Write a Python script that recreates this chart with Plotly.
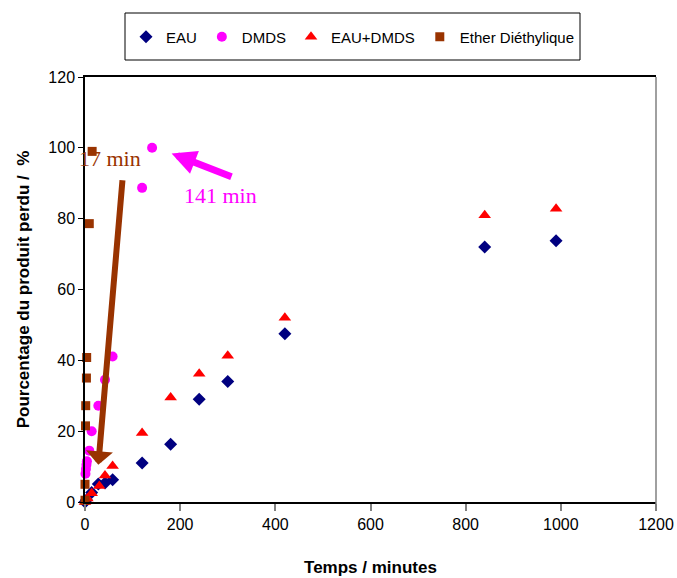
import plotly.graph_objects as go

# ---- data ----
eau_t = [0, 3, 14, 28, 42, 58, 120, 180, 240, 300, 420, 840, 990]
eau_y = [0, 0.6, 2.7, 5.1, 5.4, 6.3, 11, 16.3, 29, 34, 47.5, 72, 73.8]

dmds_t = [1, 2, 3, 4, 9, 14, 28, 42, 58, 120, 141]
dmds_y = [8, 9.3, 10.5, 11.5, 14.5, 20, 27.2, 34.5, 41.1, 88.7, 100]

mix_t = [0, 5, 14, 30, 42, 58, 120, 180, 240, 300, 420, 840, 990]
mix_y = [0, 1, 2.5, 4.5, 7.5, 10.2, 19.5, 29.5, 36.2, 41.3, 52, 81, 82.8]

ether_t = [0, 0, 1, 1.5, 3, 3.5, 9, 15]
ether_y = [0.5, 5, 21.5, 27.2, 35, 40.8, 78.6, 99]

x_ticks = [0, 200, 400, 600, 800, 1000, 1200]
y_ticks = [0, 20, 40, 60, 80, 100, 120]

NAVY, MAG, RED, BROWN = "#000080", "#FF00FF", "#FF0000", "#993300"

fig = go.Figure()
fig.add_trace(go.Scatter(x=eau_t, y=eau_y, mode="markers", name="EAU",
                         marker=dict(symbol="diamond", size=10, color=NAVY), cliponaxis=False))
fig.add_trace(go.Scatter(x=dmds_t, y=dmds_y, mode="markers", name="DMDS",
                         marker=dict(symbol="circle", size=10, color=MAG), cliponaxis=False))
fig.add_trace(go.Scatter(x=mix_t, y=mix_y, mode="markers", name="EAU+DMDS",
                         marker=dict(symbol="triangle-up", size=11, color=RED), cliponaxis=False))
fig.add_trace(go.Scatter(x=ether_t, y=ether_y, mode="markers", name="Ether Diéthylique",
                         marker=dict(symbol="square", size=9, color=BROWN), cliponaxis=False))

W, H = 677, 578
L, R, T, B = 85, 21, 77, 76
pw, ph = W - L - R, H - T - B


def px(xp):
    return (xp - L) / pw


def py(yp):
    return (H - B - yp) / ph


fig.update_layout(
    width=W, height=H,
    margin=dict(l=L, r=R, t=T, b=B, autoexpand=False),
    paper_bgcolor="white", plot_bgcolor="white",
    font=dict(family="Liberation Sans, Arial, sans-serif", size=16, color="black"),
    showlegend=True,
    legend=dict(orientation="h", x=px(126), y=py(37), xanchor="left", yanchor="middle",
                bgcolor="rgba(0,0,0,0)", borderwidth=0,
                font=dict(size=15), itemclick=False),
    xaxis=dict(range=[0, 1200], tickvals=x_ticks, showgrid=False, zeroline=False,
               showline=True, linecolor="black", linewidth=1.5, mirror=True,
               ticks="outside", ticklen=7, tickcolor="#808080", tickwidth=1.5,
               automargin=False,
               title=dict(text="<b>Temps / minutes</b>", font=dict(size=17), standoff=29)),
    yaxis=dict(range=[0, 120], tickvals=y_ticks, showgrid=False, zeroline=False,
               showline=True, linecolor="black", linewidth=1.5,
               ticks="outside", ticklen=5, tickcolor="black",
               automargin=False,
               title=dict(text="<b>Pourcentage du produit perdu /  %</b>", font=dict(size=17), standoff=14)),
    shapes=[
        dict(type="line", xref="paper", yref="paper", x0=1, x1=1, y0=-0.015, y1=1,
             line=dict(color="#808080", width=1.5)),
        dict(type="rect", xref="paper", yref="paper", x0=px(125), x1=px(580), y0=py(13), y1=py(60),
             line=dict(color="black", width=1), fillcolor="rgba(0,0,0,0)", layer="below"),
    ],
    annotations=[
        dict(x=28, y=10.5, ax=79, ay=91.3, xref="x", yref="y", axref="x", ayref="y",
             text="", showarrow=True, arrowhead=1, arrowwidth=6, arrowsize=0.75,
             arrowcolor=BROWN, standoff=0),
        dict(x=182, y=98.4, ax=311, ay=91.7, xref="x", yref="y", axref="x", ayref="y",
             text="", showarrow=True, arrowhead=2, arrowwidth=7, arrowsize=0.7,
             arrowcolor=MAG, standoff=0),
        dict(x=52.5, y=97, xref="x", yref="y", text="17 min", showarrow=False,
             font=dict(family="Liberation Serif, Times New Roman, serif", size=22, color=BROWN)),
        dict(x=285, y=86.6, xref="x", yref="y", text="141 min", showarrow=False,
             font=dict(family="Liberation Serif, Times New Roman, serif", size=22, color=MAG)),
    ],
)

fig.write_html("out.html", config={"displayModeBar": False},
               post_script="document.body.style.margin='0';")
